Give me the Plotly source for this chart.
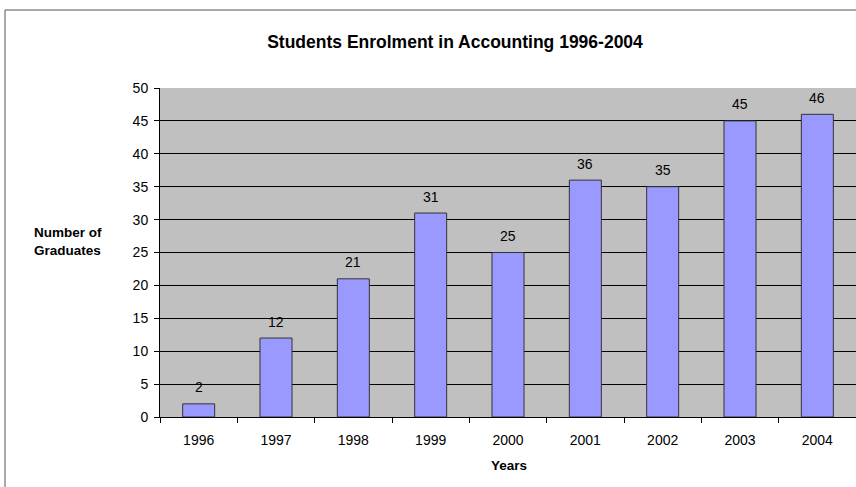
import plotly.graph_objects as go

years = ["1996", "1997", "1998", "1999", "2000", "2001", "2002", "2003", "2004"]
graduates = [2, 12, 21, 31, 25, 36, 35, 45, 46]
y_ticks = [0, 5, 10, 15, 20, 25, 30, 35, 40, 45, 50]

FONT = "Liberation Sans, Arial, sans-serif"

fig = go.Figure()
fig.add_trace(go.Bar(
    x=years, y=graduates,
    marker=dict(color="#9999FF", line=dict(color="#333333", width=1)),
    width=0.414,
))

for i, v in enumerate(graduates):
    fig.add_annotation(x=i, y=v, xref="x", yref="y", text=str(v), showarrow=False,
                       yanchor="middle", yshift=16.5,
                       font=dict(family=FONT, size=14, color="#000000"))

W, H = 856, 487
fig.update_layout(
    width=W, height=H,
    margin=dict(l=160, r=0, t=88, b=70),
    paper_bgcolor="white", plot_bgcolor="#C0C0C0",
    font=dict(family=FONT, size=14, color="#000000"),
    showlegend=False,
    title=dict(text="<b>Students Enrolment in Accounting 1996-2004</b>",
               x=455 / W, xref="container", xanchor="center",
               y=1 - 42 / H, yref="container", yanchor="middle",
               font=dict(family=FONT, size=17.5, color="#000000")),
    xaxis=dict(type="category", range=[-0.5, len(years) - 0.5], tickson="boundaries",
               ticks="outside", ticklen=5,
               tickcolor="#000000", showline=True, linecolor="#000000", linewidth=1,
               showgrid=False, tickfont=dict(size=14), ticklabelstandoff=10),
    yaxis=dict(range=[0, 50], tickvals=y_ticks, ticks="outside", ticklen=5,
               tickcolor="#000000", showline=True, linecolor="#000000", linewidth=1,
               showgrid=True, gridcolor="#000000", gridwidth=1, zeroline=False,
               tickfont=dict(size=14), ticklabelstandoff=3),
    bargap=0.586,
)

# outer chart border (left and top visible)
fig.add_shape(type="rect", xref="paper", yref="paper",
              x0=(5 - 160) / 696, x1=1.05, y0=-0.3, y1=(417 - 10) / 329,
              line=dict(color="#555555", width=1), fillcolor="rgba(0,0,0,0)", layer="below")

fig.add_annotation(text="<b>Number of<br>Graduates</b>", xref="paper", yref="paper",
                   x=(32 - 160) / 696, y=(417 - 241) / 329, xanchor="left", yanchor="middle",
                   align="left", showarrow=False, font=dict(family=FONT, size=13.5, color="#000000"))
fig.add_annotation(text="<b>Years</b>", xref="paper", yref="paper",
                   x=(508.5 - 160) / 696, y=(417 - 465) / 329, xanchor="center", yanchor="middle",
                   showarrow=False, font=dict(family=FONT, size=13.5, color="#000000"))

fig.write_html("out.html", config={"displayModeBar": False},
               post_script="document.body.style.margin='0';document.body.style.overflow='hidden';")
